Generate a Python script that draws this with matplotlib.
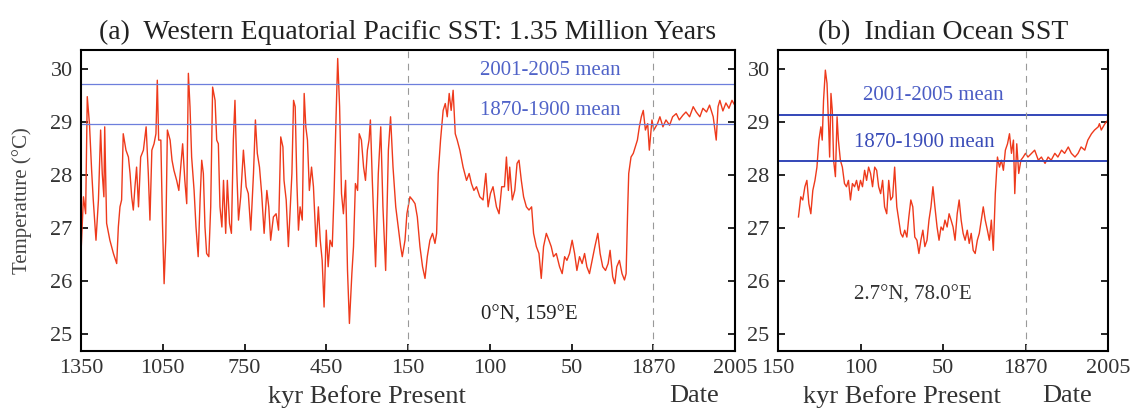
import numpy as np
import matplotlib
matplotlib.use("Agg")
import matplotlib.pyplot as plt

plt.rcParams['font.family'] = ['Liberation Serif', 'DejaVu Serif']

# ---- (a) Western Equatorial Pacific, kyr before present ----
pac_kyr = [1350, 1341, 1333, 1327, 1319, 1311, 1305, 1295, 1286, 1278, 1272, 1266, 1263, 1256,
           1244, 1231, 1219, 1213, 1207, 1201, 1195, 1185, 1176, 1170, 1164, 1158, 1152, 1146,
           1139, 1131, 1121, 1111, 1103, 1097, 1090, 1082, 1075, 1070, 1065, 1057, 1051, 1045,
           1039, 1033, 1023, 1016, 1009, 999, 991, 984, 977, 969, 962, 956, 950, 944, 935, 928,
           920, 913, 907, 901, 895, 889, 881, 874, 867, 858, 852, 846, 840, 833, 827, 819, 813,
           805, 798, 791, 785, 778, 772, 764, 754, 744, 736, 727, 717, 710, 703, 695, 687, 678,
           668, 661, 654, 644, 634, 625, 617, 609, 605, 597, 589, 583, 576, 570, 564, 558, 552,
           546, 538, 531, 525, 519, 512, 504, 497, 487, 479, 472, 465, 458, 450, 443, 436, 428,
           421, 414, 408, 401, 394, 387, 379, 372, 365, 356, 350, 343, 335, 329, 321, 313, 306,
           299, 293, 288, 281, 269, 259, 250, 242, 232, 222, 214, 205, 195, 186, 177, 171, 161,
           154, 148.8, 147.2, 145.7, 144.3, 142.7, 141.1, 139.6, 138.2, 136.6, 135.0, 133.5,
           132.5, 131.5, 130.1, 128.5, 127.2, 126.0, 124.8, 123.6, 122.4, 121.1, 119.9, 118.3,
           116.3, 114.2, 112.6, 111.2, 109.7, 108.1, 106.1, 104.1, 102.4, 101.0, 99.6, 98.0,
           95.9, 94.3, 92.7, 91.0, 89.8, 88.6, 87.8, 86.2, 84.7, 83.3, 82.1, 80.7, 79.3, 77.6,
           76.0, 74.4, 73.2, 71.5, 69.9, 68.5, 67.1, 65.4, 63.8, 62.4, 61.0, 59.3, 57.3, 55.7,
           54.2, 52.8, 51.2, 49.6, 48.1, 46.7, 45.1, 43.5, 42.0, 40.6, 39.0, 37.4, 35.7, 33.9,
           32.5, 30.9, 29.2, 27.6, 26.4, 24.8, 23.5, 22.3, 20.7, 19.1, 17.6, 16.6, 15.6, 15.0,
           13.6, 12.2, 11.0, 9.7, 8.5, 7.3, 6.1, 4.8, 3.4, 2.4, 0.8]
pac_sst = [26.51, 27.58, 27.26, 29.47, 28.96, 28.08, 27.52, 26.76, 27.52, 28.84, 28.02, 27.58, 28.90, 27.08,
           26.76, 26.51, 26.32, 27.01, 27.39, 27.52, 28.77, 28.46, 28.33, 28.02, 27.58, 27.33, 27.77, 28.14,
           27.39, 28.33, 28.46, 28.90, 28.02, 27.14, 28.46, 28.58, 28.77, 29.78, 28.65, 28.65, 27.08, 25.94,
           26.76, 28.84, 28.65, 28.27, 28.08, 27.89, 27.70, 28.14, 28.58, 27.89, 27.45, 29.91, 29.28, 28.33, 27.70, 27.01,
           26.45, 27.52, 28.27, 28.02, 27.01, 26.51, 26.45, 27.39, 29.65, 29.40, 28.65, 28.58, 27.39, 27.01, 27.89, 26.89, 27.89,
           27.08, 26.89, 28.65, 29.40, 28.02, 27.14, 27.58, 28.46, 27.77, 27.64, 26.95, 28.02, 29.03, 28.40, 28.14, 27.64, 26.89,
           27.70, 27.39, 26.76, 27.20, 27.26, 26.95, 28.71, 28.52, 27.89, 27.52, 26.64, 27.26, 28.02, 29.40, 29.28, 27.89, 26.95,
           27.39, 27.14, 29.53, 28.90, 28.65, 27.70, 28.14, 27.77, 26.64, 27.39, 26.76, 26.38, 25.50, 26.95, 26.26, 26.76, 26.64,
           27.70, 29.09, 30.19, 29.28, 27.64, 27.26, 27.89, 26.19, 25.19, 26.13, 26.64, 27.83, 27.70, 28.77, 28.65, 28.14, 27.89,
           28.46, 28.65, 29.03, 27.89, 26.26, 28.02, 28.90, 27.39, 26.19, 28.46, 29.09, 28.14, 27.39, 27.01, 26.64, 26.45, 26.76,
           27.26, 27.58, 27.52, 27.45, 27.20, 26.64, 26.26, 26.04, 26.45, 26.76, 26.89, 26.70,
           26.89, 28.02, 28.65, 29.21, 29.34, 29.09, 29.53, 29.21, 29.59, 28.77, 28.65, 28.46,
           28.14, 27.89, 28.02, 27.83, 27.70, 27.77, 27.58, 27.52, 28.02, 27.39, 27.64, 27.77,
           27.39, 27.26, 27.77, 27.77, 28.33, 27.70, 28.14, 27.52, 27.70, 28.21, 28.27, 27.89, 27.58, 27.39,
           27.33, 27.39, 26.89, 26.64, 26.51, 26.04, 26.64, 26.89, 26.76, 26.64, 26.45, 26.51, 26.26, 26.13,
           26.45, 26.38, 26.51, 26.76, 26.51, 26.19, 26.45, 26.32, 26.51, 26.26, 26.13, 26.38, 26.64, 26.89,
           26.51, 26.26, 26.19, 26.32, 26.57, 26.07, 25.94, 26.26, 26.38, 26.13, 26.01, 26.13, 27.39, 28.02,
           28.33, 28.40, 28.52, 28.65, 28.90, 29.09, 29.21, 28.84, 28.96, 28.46, 29.03]
pac_year = [1871, 1877, 1881, 1886, 1891, 1897, 1902, 1908, 1913, 1919, 1924, 1930, 1936, 1941,
            1947, 1952, 1958, 1963, 1969, 1974, 1977, 1980, 1985, 1990, 1995, 2000, 2005]
pac_sst_recent = [28.84, 28.96, 29.09, 28.90, 29.03, 28.93, 29.09, 29.15, 29.03, 29.12, 29.18, 29.09, 29.28, 29.18,
                  29.09, 29.25, 29.18, 29.31, 29.09, 28.65, 29.28, 29.40, 29.20, 29.35, 29.25, 29.40, 29.30]

# ---- (b) Indian Ocean ----
ind_kyr = [137.6, 136.2, 135.0, 133.7, 132.5, 131.3, 130.1, 128.9, 127.6, 126.4, 125.2, 124.0, 123.2,
           122.4, 121.3, 120.3, 119.3, 118.7, 117.9, 117.1, 116.3, 115.2, 114.2, 113.4, 112.2, 111.0,
           109.7, 108.5, 107.3, 106.1, 104.9, 103.6, 102.4, 101.2, 100.0, 98.8, 97.5, 96.3, 95.1, 93.9,
           92.7, 91.4, 90.2, 89.0, 87.8, 86.6, 85.4, 84.1, 82.9, 81.7, 80.5, 79.3, 78.0, 76.8, 75.6,
           74.4, 73.2, 71.9, 70.7, 69.5, 68.3, 67.1, 65.8, 64.6, 63.4, 62.2, 61.0, 59.7, 58.5, 57.3,
           56.1, 54.9, 53.6, 52.4, 51.2, 50.0, 48.8, 47.5, 46.3, 45.1, 43.9, 42.7, 41.4, 40.2, 39.0,
           37.8, 36.6, 35.3, 34.1, 32.9, 31.7, 30.5, 29.2, 28.0, 26.8, 25.6, 24.4, 23.1, 21.9, 20.7,
           19.5, 18.3, 17.0, 15.8, 14.6, 13.4, 12.2, 10.9, 9.7, 8.5, 7.3, 6.5, 5.3, 4.1, 2.8, 1.4, 0.0]
ind_sst = [27.20, 27.58, 27.52, 27.77, 27.89, 27.45, 27.26, 27.70, 27.89, 28.14, 28.65, 28.90, 28.65,
           29.40, 29.97, 29.72, 28.90, 28.33, 29.53, 29.21, 28.27, 27.96, 29.09, 28.65, 28.27, 28.14,
           27.83, 27.77, 27.89, 27.52, 27.83, 27.77, 27.89, 27.70, 27.89, 27.77, 28.08, 27.89, 28.14, 28.02,
           27.77, 28.14, 28.08, 27.77, 27.64, 27.89, 27.39, 27.26, 27.89, 27.52, 27.58, 28.14, 27.39, 27.14, 26.89,
           26.82, 26.95, 26.82, 27.20, 27.52, 27.39, 26.82, 26.76, 26.51, 26.76, 26.95, 26.64, 26.76, 27.14, 27.39,
           27.77, 27.39, 27.01, 26.76, 27.01, 26.95, 27.14, 27.01, 27.26, 27.14, 27.01, 26.76, 27.26, 27.52, 27.14,
           26.89, 26.76, 26.95, 26.70, 26.89, 26.57, 26.51, 26.76, 26.89, 27.14, 27.39, 27.14, 26.95, 26.76, 27.14,
           26.57, 27.64, 28.33, 28.14, 28.27, 28.08, 28.46, 28.58, 28.77, 28.40, 28.65, 27.64, 28.58, 28.02, 28.27, 28.33, 28.40]
ind_year = [1874, 1880, 1885, 1891, 1896, 1902, 1907, 1912, 1918, 1923, 1929, 1934, 1940,
            1945, 1951, 1956, 1961, 1967, 1972, 1978, 1983, 1989, 1991, 1994, 2000, 2005]
ind_sst_recent = [28.33, 28.40, 28.46, 28.27, 28.33, 28.21, 28.33, 28.27, 28.40, 28.33, 28.46, 28.40, 28.52,
                  28.40, 28.33, 28.40, 28.52, 28.46, 28.65, 28.77, 28.84, 28.90, 28.96, 28.84, 28.96, 29.03]

pac_means = {'2001-2005 mean': 29.70, '1870-1900 mean': 28.95}
ind_means = {'2001-2005 mean': 29.13, '1870-1900 mean': 28.26}

pac_ticks = ['1350', '1050', '750', '450', '150', '100', '50', '1870', '2005']
ind_ticks = ['150', '100', '50', '1870', '2005']


# piecewise x axis: every tick interval gets the same width
def pac_pos(kyr=None, year=None):
    if year is not None:
        return 7 + (np.asarray(year, float) - 1870) / 135.0
    k = np.asarray(kyr, float)
    return np.where(k >= 150, (1350 - k) / 300.0, 4 + (150 - k) / 50.0)


def ind_pos(kyr=None, year=None):
    if year is not None:
        return 3 + (np.asarray(year, float) - 1870) / 135.0
    return (150 - np.asarray(kyr, float)) / 50.0


red = '#ee3a1c'
txt = '#333333'

fig = plt.figure(figsize=(11.3, 4.18), dpi=100)
ax_a = fig.add_axes([81/1130, 1 - 351/418, 654/1130, 301/418])
ax_b = fig.add_axes([778/1130, 1 - 351/418, 330/1130, 301/418])

# panel a
xa = np.concatenate([pac_pos(kyr=pac_kyr), pac_pos(year=pac_year)])
ya = np.concatenate([pac_sst, pac_sst_recent])
ax_a.plot(xa, ya, color=red, lw=1.0)
for v in pac_means.values():
    ax_a.axhline(v, color='#6d7fdc', lw=0.9)
for u in (4, 7):
    ax_a.axvline(u, color='#999999', lw=0.8, ls=(0, (6, 5)))
ax_a.set_xlim(0, 8)
ax_a.set_xticks(range(9))
ax_a.set_xticklabels(pac_ticks)
ax_a.text(5.74, 29.97, '2001-2005 mean', color='#5063c8', fontsize=15, ha='center', va='center')
ax_a.text(5.74, 29.21, '1870-1900 mean', color='#5063c8', fontsize=15, ha='center', va='center')
ax_a.text(5.49, 25.35, '0°N, 159°E', color='#222222', fontsize=15, ha='center', va='center')
ax_a.set_title('(a)  Western Equatorial Pacific SST: 1.35 Million Years', fontsize=20, color='#222222', pad=8)
ax_a.annotate('kyr Before Present', xy=(3.5, -0.15), xycoords=('data', 'axes fraction'),
              ha='center', va='center', fontsize=19, color=txt)
ax_a.annotate('Date', xy=(7.5, -0.15), xycoords=('data', 'axes fraction'),
              ha='center', va='center', fontsize=19, color=txt)

# panel b
xb = np.concatenate([ind_pos(kyr=ind_kyr), ind_pos(year=ind_year)])
yb = np.concatenate([ind_sst, ind_sst_recent])
ax_b.plot(xb, yb, color=red, lw=1.0)
for v in ind_means.values():
    ax_b.axhline(v, color='#3346b8', lw=1.4)
ax_b.axvline(3, color='#999999', lw=0.8, ls=(0, (6, 5)))
ax_b.set_xlim(0, 4)
ax_b.set_xticks(range(5))
ax_b.set_xticklabels(ind_ticks)
ax_b.text(1.88, 29.50, '2001-2005 mean', color='#4a5cc4', fontsize=15, ha='center', va='center')
ax_b.text(1.77, 28.61, '1870-1900 mean', color='#3a4cb8', fontsize=15, ha='center', va='center')
ax_b.text(1.64, 25.73, '2.7°N, 78.0°E', color='#333333', fontsize=15, ha='center', va='center')
ax_b.set_title('(b)  Indian Ocean SST', fontsize=20, color='#222222', pad=8)
ax_b.annotate('kyr Before Present', xy=(1.5, -0.15), xycoords=('data', 'axes fraction'),
              ha='center', va='center', fontsize=19, color=txt)
ax_b.annotate('Date', xy=(3.5, -0.15), xycoords=('data', 'axes fraction'),
              ha='center', va='center', fontsize=19, color=txt)

for ax in (ax_a, ax_b):
    ax.set_ylim(24.67, 30.35)
    ax.set_yticks([25, 26, 27, 28, 29, 30])
    ax.tick_params(direction='in', length=5, width=1.2, right=True, top=False,
                   labelsize=16, labelcolor=txt, pad=6)
    for s in ax.spines.values():
        s.set_linewidth(1.5)

fig.text(22/1130, 0.52, 'Temperature (°C)', rotation=90, ha='center', va='center',
         fontsize=15, color='#444444')

fig.savefig('out.png', dpi=100)
